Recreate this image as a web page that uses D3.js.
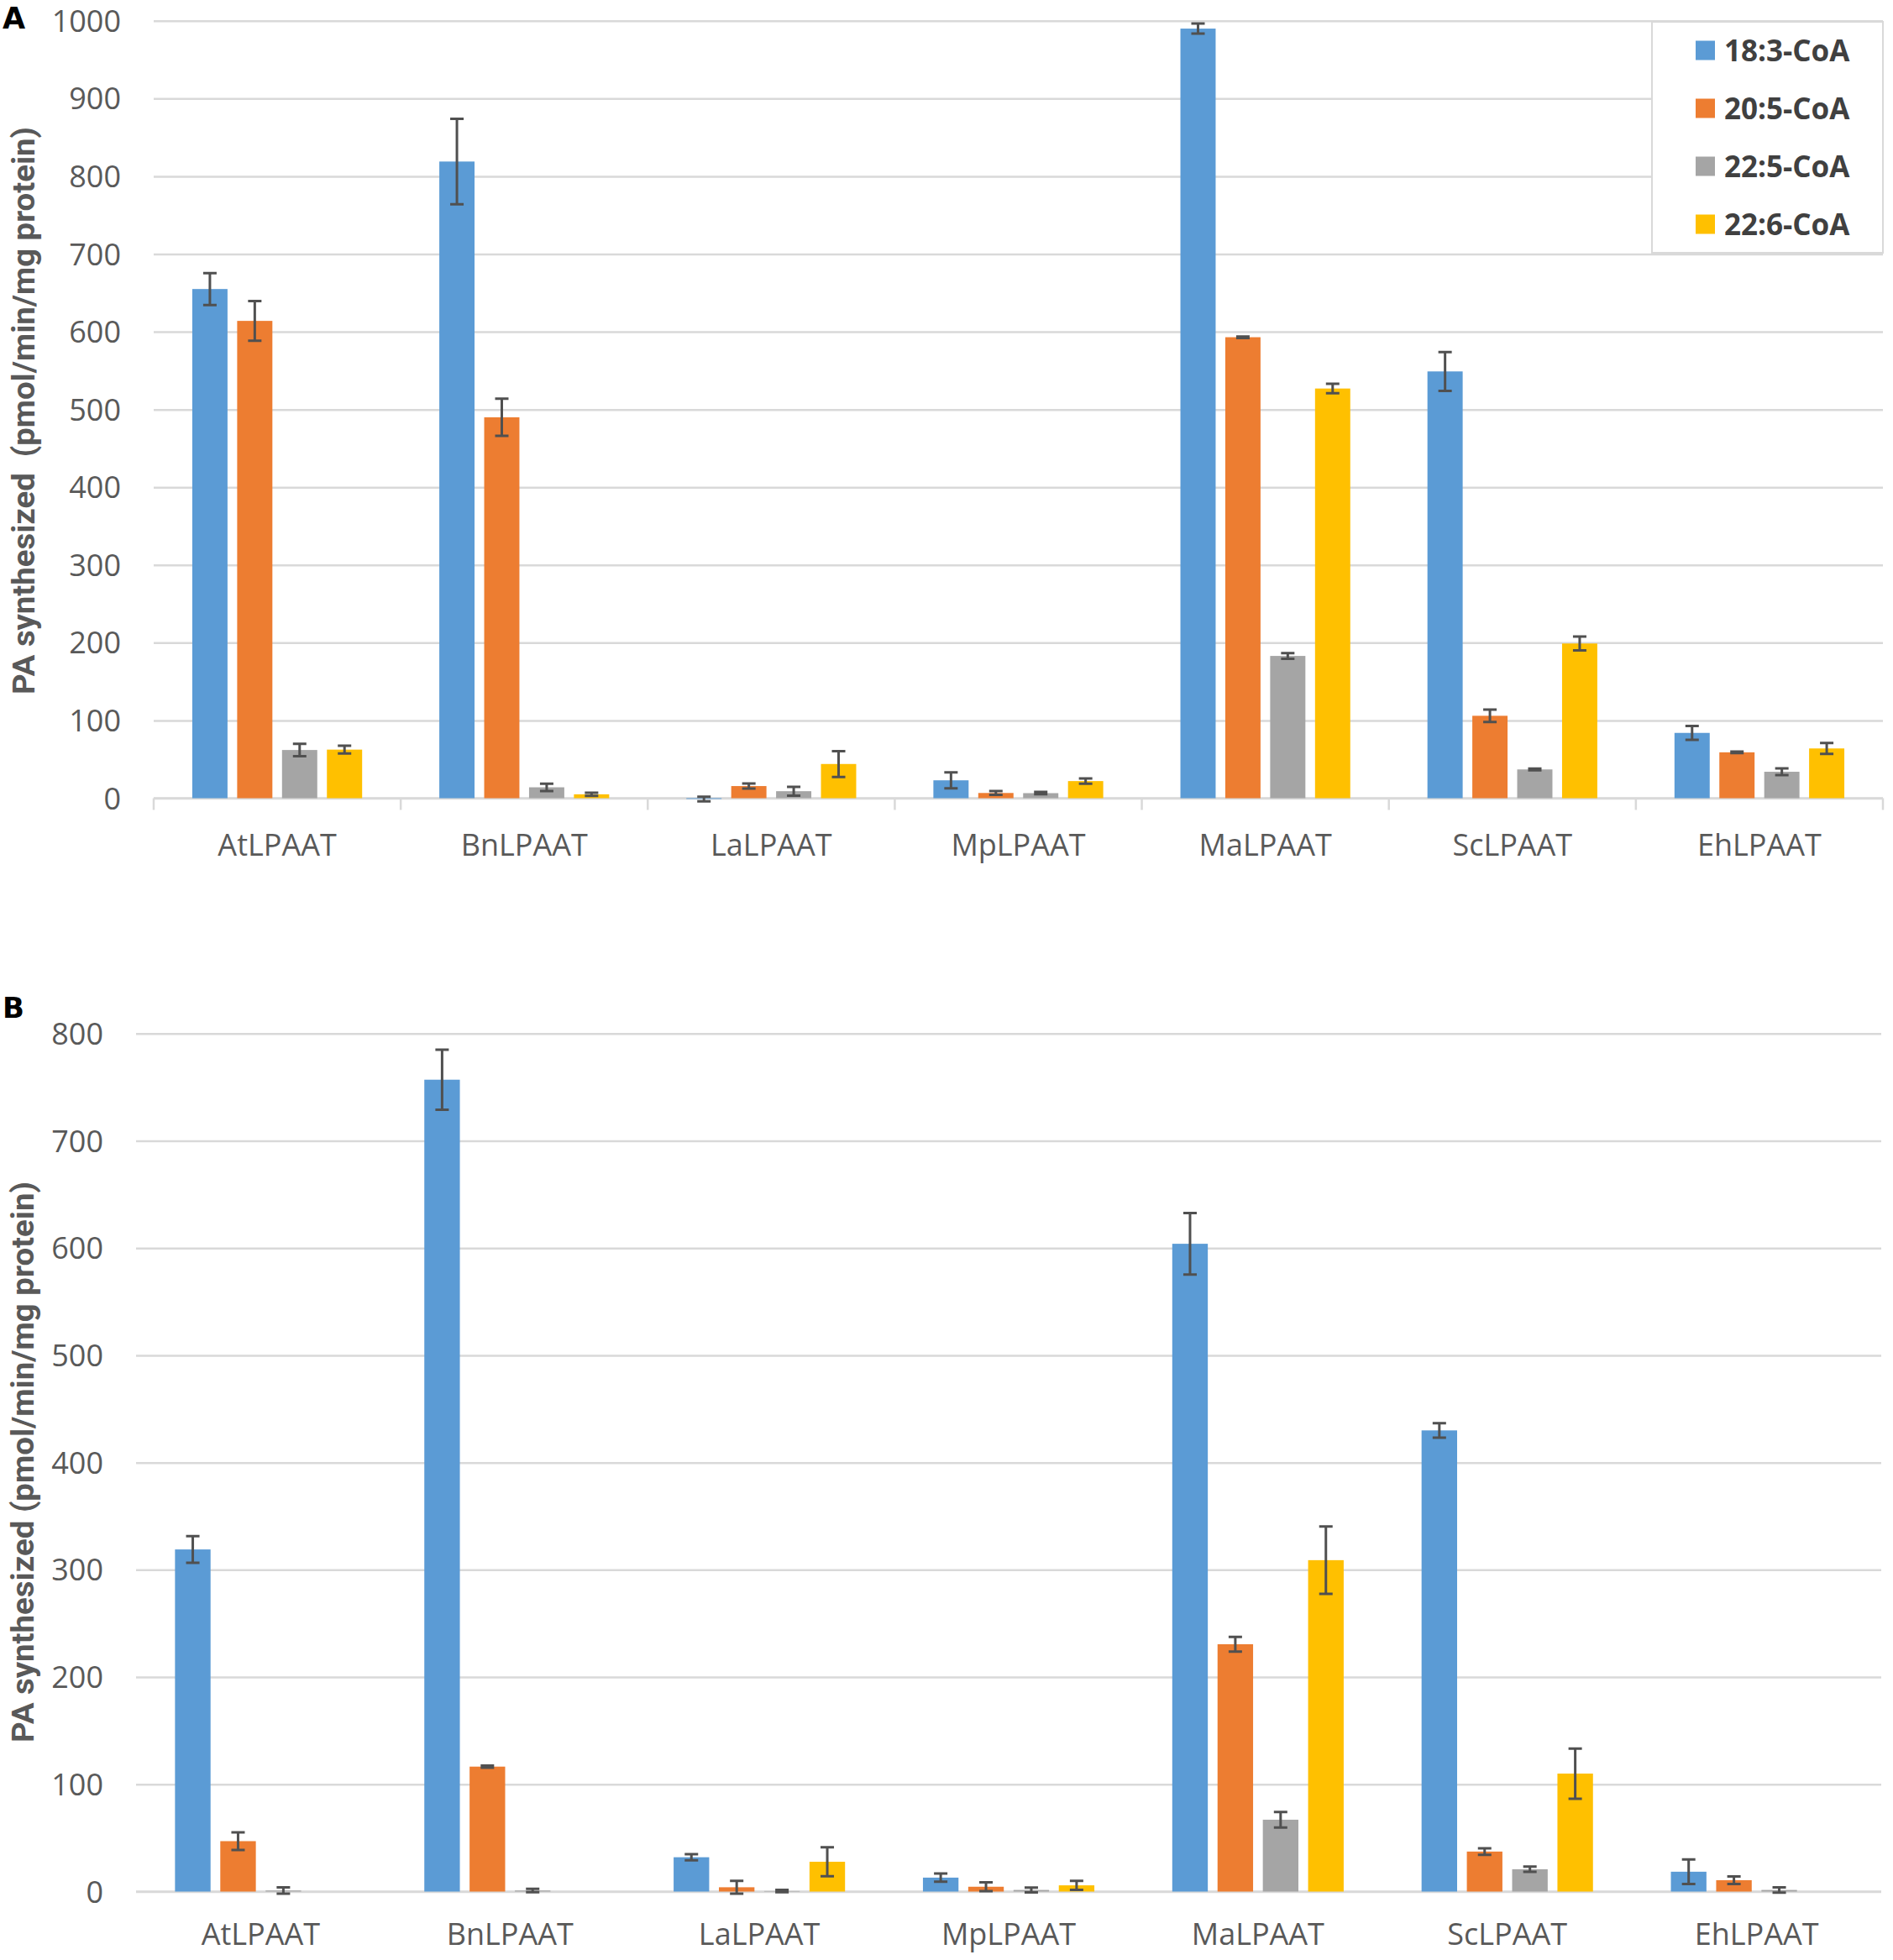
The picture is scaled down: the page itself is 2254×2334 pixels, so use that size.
<!DOCTYPE html>
<html>
<head>
<meta charset="utf-8">
<script src="https://cdn.jsdelivr.net/npm/d3@7"></script>
<style>
  html, body { margin: 0; padding: 0; background: #ffffff; }
  svg { display: block; }
</style>
</head>
<body>
<svg id="chart" width="2254" height="2334"></svg>
<script>
// ---------- DATA ----------
const categories = ["AtLPAAT", "BnLPAAT", "LaLPAAT", "MpLPAAT", "MaLPAAT", "ScLPAAT", "EhLPAAT"];
const seriesNames = ["18:3-CoA", "20:5-CoA", "22:5-CoA", "22:6-CoA"];
const seriesColors = ["#5B9BD5", "#ED7D31", "#A5A5A5", "#FFC000"];

// Panel A
const a_18_3 = [655, 819, -1, 23, 990, 549, 84];
const a_18_3_err = [20.5, 55, 3, 10.3, 6.5, 25, 9];
const a_20_5 = [614, 490, 15.6, 6.7, 593, 106, 59];
const a_20_5_err = [25.5, 24, 3.3, 2.5, 1, 8, 1];
const a_22_5 = [62, 14, 9, 6.5, 183, 37, 34];
const a_22_5_err = [8, 4.7, 5.7, 1.5, 3.6, 1, 4.3];
const a_22_6 = [62.5, 5, 44, 22, 527, 199, 64];
const a_22_6_err = [5, 2, 16.6, 3.5, 6, 9, 7];
const a_ticks = [0, 100, 200, 300, 400, 500, 600, 700, 800, 900, 1000];

// Panel B
const b_18_3 = [319, 757, 32, 13, 604, 430, 18.5];
const b_18_3_err = [12.4, 28, 2.9, 3.8, 28.6, 6.8, 11.5];
const b_20_5 = [47, 116.5, 4, 4.5, 230.6, 37.3, 10.6];
const b_20_5_err = [8.3, 1, 6, 4.2, 6.8, 3, 3.5];
const b_22_5 = [1, 1, 0.5, 1.5, 67, 20.8, 1.5];
const b_22_5_err = [3, 1.5, 1, 2.2, 7.2, 2.4, 2.5];
const b_22_6 = [0, 0, 27.8, 5.8, 309, 110, 0];
const b_22_6_err = [0, 0, 13.5, 4.2, 31.4, 23.4, 0];
const b_ticks = [0, 100, 200, 300, 400, 500, 600, 700, 800];

// ---------- DRAWING ----------
const svg = d3.select("#chart");
const tickFont = "'Open Sans', 'Noto Sans', sans-serif";
const labelFont = "'Liberation Sans Narrow', 'Roboto', 'Noto Sans', sans-serif";

function buildRows(vals, errs) {
  return vals.map((arr, s) => arr.map((v, i) => ({
    cat: categories[i], series: seriesNames[s], color: seriesColors[s], v: v, e: errs[s][i]
  }))).flat();
}

function drawPanel(opt) {
  const g = svg.append("g");
  const x0 = d3.scaleBand().domain(categories).range([opt.left, opt.right]).paddingInner(0).paddingOuter(0);
  const x1 = d3.scaleBand().domain(seriesNames).range([0, x0.bandwidth()]).paddingInner(0.215).paddingOuter(0.86);
  const y = d3.scaleLinear().domain([0, opt.max]).range([opt.bottom, opt.top]);

  // gridlines + tick labels
  const yAxis = d3.axisLeft(y).tickValues(opt.ticks).tickSize(-(opt.right - opt.left)).tickPadding(39).tickFormat(d3.format("d"));
  const ya = g.append("g").attr("transform", `translate(${opt.left},0)`).call(yAxis);
  ya.select(".domain").remove();
  ya.selectAll(".tick line").attr("stroke", "#D9D9D9").attr("stroke-width", 2.5);
  ya.selectAll(".tick text").attr("fill", "#595959").attr("font-family", tickFont).attr("font-size", 36).attr("dy", "0.35em");

  // category axis
  const xAxis = d3.axisBottom(x0).tickSize(0).tickPadding(0);
  const xa = g.append("g").attr("transform", `translate(0,${opt.bottom})`).call(xAxis);
  xa.select(".domain").attr("stroke", "#D9D9D9").attr("stroke-width", 2.5).attr("d", `M${opt.left},0H${opt.right}`);
  xa.selectAll(".tick text").attr("fill", "#595959").attr("font-family", tickFont).attr("font-size", 36)
    .attr("dy", null).attr("y", opt.catDy);
  if (opt.boundaryTicks) {
    const bounds = categories.map(c => x0(c)).concat([opt.right]);
    g.append("g").selectAll("line").data(bounds).join("line")
      .attr("x1", d => d).attr("x2", d => d)
      .attr("y1", opt.bottom).attr("y2", opt.bottom + 14)
      .attr("stroke", "#D9D9D9").attr("stroke-width", 2.5);
  }

  const rows = buildRows(opt.vals, opt.errs);
  // bars
  g.append("g").selectAll("rect").data(rows).join("rect")
    .attr("x", d => x0(d.cat) + x1(d.series))
    .attr("width", x1.bandwidth())
    .attr("y", d => y(Math.max(0, d.v)))
    .attr("height", d => Math.abs(y(d.v) - y(0)))
    .attr("fill", d => d.color);

  // error bars
  const eg = g.append("g").attr("stroke", "#505050").attr("stroke-width", 3).attr("fill", "none");
  const errRows = rows.filter(d => d.e > 0);
  const cap = 8;
  eg.selectAll("path").data(errRows).join("path")
    .attr("d", d => {
      const cx = x0(d.cat) + x1(d.series) + x1.bandwidth() / 2;
      const yt = y(d.v + d.e), yb = y(d.v - d.e);
      return `M${cx - cap},${yt}H${cx + cap}M${cx},${yt}V${yb}M${cx - cap},${yb}H${cx + cap}`;
    });

  // y-axis title
  g.append("text")
    .attr("transform", `translate(${opt.titleX},${opt.titleY}) rotate(-90)`)
    .attr("text-anchor", "middle")
    .attr("font-family", labelFont).attr("font-weight", "bold").attr("font-size", 36)
    .attr("fill", "#595959")
    .style("white-space", "pre")
    .attr("textLength", opt.titleLen).attr("lengthAdjust", "spacingAndGlyphs")
    .text(opt.title);

  // panel letter
  g.append("text").attr("x", 3).attr("y", opt.letterY)
    .attr("font-family", "'DejaVu Sans', 'Liberation Sans', sans-serif").attr("font-weight", "bold").attr("font-size", opt.letterSize)
    .attr("fill", "#000").text(opt.letter);

  return { x0, x1, y };
}

drawPanel({
  left: 183, right: 2242, top: 24.8, bottom: 950.5, max: 1000, ticks: a_ticks,
  vals: [a_18_3, a_20_5, a_22_5, a_22_6], errs: [a_18_3_err, a_20_5_err, a_22_5_err, a_22_6_err],
  boundaryTicks: true, catDy: 68,
  title: "PA synthesized  (pmol/min/mg protein)", titleX: 41, titleY: 489, titleLen: 676,
  letter: "A", letterY: 34, letterSize: 35
});

drawPanel({
  left: 162, right: 2240, top: 1230.8, bottom: 2252.5, max: 800, ticks: b_ticks,
  vals: [b_18_3, b_20_5, b_22_5, b_22_6], errs: [b_18_3_err, b_20_5_err, b_22_5_err, b_22_6_err],
  boundaryTicks: false, catDy: 63,
  title: "PA synthesized (pmol/min/mg protein)", titleX: 40, titleY: 1741, titleLen: 668,
  letter: "B", letterY: 1212, letterSize: 34
});

// legend (panel A)
const lg = svg.append("g");
lg.append("rect").attr("x", 1967).attr("y", 26).attr("width", 275).attr("height", 275)
  .attr("fill", "#ffffff").attr("stroke", "#D9D9D9").attr("stroke-width", 2);
const items = lg.selectAll("g.item").data(seriesNames).join("g").attr("class", "item")
  .attr("transform", (d, i) => `translate(2019,${60 + i * 69})`);
items.append("rect").attr("x", 0).attr("y", -11.5).attr("width", 23).attr("height", 23)
  .attr("fill", (d, i) => seriesColors[i]);
items.append("text").attr("x", 34).attr("dy", "0.36em")
  .attr("font-family", tickFont).attr("font-weight", "bold").attr("font-size", 35)
  .attr("fill", "#404040").text(d => d);
</script>
</body>
</html>
